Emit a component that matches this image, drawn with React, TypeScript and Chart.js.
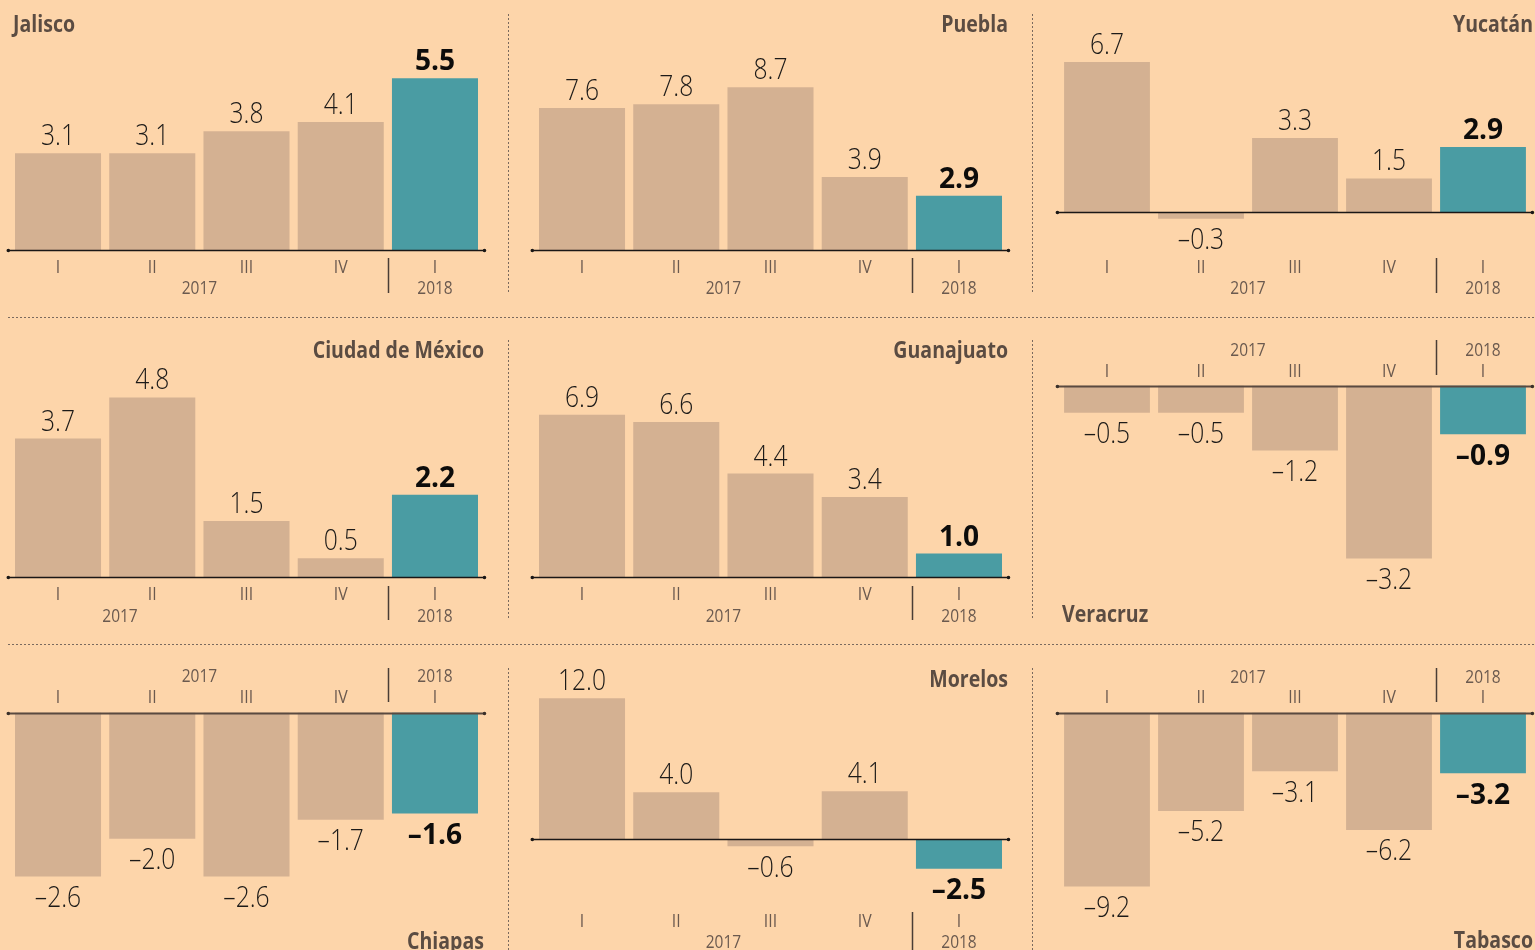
import React, { useEffect, useRef } from "react";
import { Chart, registerables } from "chart.js";

Chart.register(...registerables);

// ---------- DATA ----------
const QUARTERS = ["I", "II", "III", "IV", "I"];
const YEARS = ["2017", "2018"];

const JALISCO = [3.1, 3.1, 3.8, 4.1, 5.5];
const PUEBLA = [7.6, 7.8, 8.7, 3.9, 2.9];
const YUCATAN = [6.7, -0.3, 3.3, 1.5, 2.9];
const CDMX = [3.7, 4.8, 1.5, 0.5, 2.2];
const GUANAJUATO = [6.9, 6.6, 4.4, 3.4, 1.0];
const VERACRUZ = [-0.5, -0.5, -1.2, -3.2, -0.9];
const CHIAPAS = [-2.6, -2.0, -2.6, -1.7, -1.6];
const MORELOS = [12.0, 4.0, -0.6, 4.1, -2.5];
const TABASCO = [-9.2, -5.2, -3.1, -6.2, -3.2];

// ---------- STYLE / LAYOUT ----------
const BG = "#FDD5AA";
const TAN = "#D4B192";
const TEAL = "#4A9CA3";
const TITLE_COLOR = "#5b4c42";
const LABEL_COLOR = "#6b5a4f";
const VALUE_COLOR = "#1c1a18";
const DOT_COLOR = "#7a6a5e";
const FONT = '"Open Sans", "Noto Sans", sans-serif';

const COLS = [
  { left: 0, width: 510, areaL: 10.9, areaR: 482.1, vline: 508.5 },
  { left: 510, width: 524, areaL: 534.9, areaR: 1006.1, vline: 1032.5 },
  { left: 1034, width: 501, areaL: 1060, areaR: 1530, vline: null as number | null },
];
const ROWS = [
  { top: 0, height: 320, hline: 317.5 as number | null, vTop: 14, vBot: 293 },
  { top: 320, height: 326, hline: 644.5 as number | null, vTop: 340, vBot: 620 },
  { top: 646, height: 304, hline: null as number | null, vTop: 668, vBot: 950 },
];

type PanelCfg = {
  name: string;
  values: number[];
  row: number;
  col: number;
  y0: number;
  k: number;
  qBase: number;
  yBase: number;
  sepTop: number;
  sepBot: number;
  titleX: number;
  titleBase: number;
  titleAlign: CanvasTextAlign;
  yearX?: number;
  negAxis?: boolean;
};

const PANELS: PanelCfg[] = [
  { name: "Jalisco", values: JALISCO, row: 0, col: 0, y0: 250, k: 31.25, qBase: 273, yBase: 294, sepTop: 258, sepBot: 293, titleX: 13, titleBase: 32, titleAlign: "left" },
  { name: "Puebla", values: PUEBLA, row: 0, col: 1, y0: 250, k: 18.7, qBase: 273, yBase: 294, sepTop: 258, sepBot: 293, titleX: 1008, titleBase: 32, titleAlign: "right" },
  { name: "Yucatán", values: YUCATAN, row: 0, col: 2, y0: 212, k: 22.4, qBase: 273, yBase: 294, sepTop: 258, sepBot: 293, titleX: 1533, titleBase: 32, titleAlign: "right" },
  { name: "Ciudad de México", values: CDMX, row: 1, col: 0, y0: 577, k: 37.4, qBase: 600, yBase: 621.5, sepTop: 586, sepBot: 620, titleX: 484, titleBase: 358, titleAlign: "right", yearX: 120 },
  { name: "Guanajuato", values: GUANAJUATO, row: 1, col: 1, y0: 577, k: 23.5, qBase: 600, yBase: 621.5, sepTop: 586, sepBot: 620, titleX: 1008, titleBase: 358, titleAlign: "right" },
  { name: "Veracruz", values: VERACRUZ, row: 1, col: 2, y0: 385.7, k: 54, qBase: 376.7, yBase: 355.7, sepTop: 340, sepBot: 375, titleX: 1062, titleBase: 621.5, titleAlign: "left", negAxis: true },
  { name: "Chiapas", values: CHIAPAS, row: 2, col: 0, y0: 712.7, k: 63, qBase: 703, yBase: 682, sepTop: 668, sepBot: 702, titleX: 484, titleBase: 948.5, titleAlign: "right", negAxis: true },
  { name: "Morelos", values: MORELOS, row: 2, col: 1, y0: 839.3, k: 11.75, qBase: 926.7, yBase: 948, sepTop: 912, sepBot: 950, titleX: 1008, titleBase: 686.7, titleAlign: "right" },
  { name: "Tabasco", values: TABASCO, row: 2, col: 2, y0: 712.7, k: 18.9, qBase: 703, yBase: 682.5, sepTop: 668, sepBot: 702, titleX: 1533, titleBase: 948, titleAlign: "right", negAxis: true },
];

function fmt(v: number) {
  const s = Math.abs(v).toFixed(1);
  return v < 0 ? "\u2013" + s : s;
}

function txt(
  ctx: CanvasRenderingContext2D,
  s: string,
  x: number,
  y: number,
  font: string,
  color: string,
  align: CanvasTextAlign,
  sx: number
) {
  ctx.save();
  ctx.font = font;
  ctx.fillStyle = color;
  ctx.textBaseline = "alphabetic";
  ctx.textAlign = align;
  ctx.translate(x, y);
  ctx.scale(sx, 1);
  ctx.fillText(s, 0, 0);
  ctx.restore();
}

function Panel({ p }: { p: PanelCfg }) {
  const ref = useRef<HTMLCanvasElement | null>(null);
  const col = COLS[p.col];
  const row = ROWS[p.row];
  const ox = col.left;
  const oy = row.top;
  const W = col.width;
  const H = row.height;

  useEffect(() => {
    if (!ref.current) return;
    const max = (p.y0 - oy) / p.k;
    const min = (p.y0 - oy - H) / p.k;
    const X = (a: number) => a - ox;
    const Y = (a: number) => a - oy;

    const decor = {
      id: "decor",
      afterDatasetsDraw(chart: any) {
        const ctx: CanvasRenderingContext2D = chart.ctx;
        const meta = chart.getDatasetMeta(0);
        const ys = chart.scales.y;
        const ca = chart.chartArea;
        const zeroY = Math.round(ys.getPixelForValue(0)) + 0.5;
        const n = p.values.length;

        // dotted separators
        ctx.save();
        ctx.strokeStyle = DOT_COLOR;
        ctx.lineWidth = 1;
        ctx.setLineDash([2, 2]);
        if (col.vline !== null) {
          ctx.beginPath();
          ctx.moveTo(X(col.vline), Y(row.vTop));
          ctx.lineTo(X(col.vline), Y(row.vBot));
          ctx.stroke();
        }
        if (row.hline !== null) {
          const xs = p.col === 0 ? 8 : ox;
          ctx.lineDashOffset = (xs - 8) % 4;
          ctx.beginPath();
          ctx.moveTo(X(xs), Y(row.hline));
          ctx.lineTo(W, Y(row.hline));
          ctx.stroke();
        }
        ctx.restore();

        // zero axis
        ctx.save();
        ctx.strokeStyle = p.negAxis ? "#5a4a40" : "#1a1716";
        ctx.fillStyle = p.negAxis ? "#3a302a" : "#1a1716";
        ctx.lineWidth = p.negAxis ? 2 : 1.5;
        const ax1 = ca.left - 2.6;
        const ax2 = ca.right + 2.4;
        ctx.beginPath();
        ctx.moveTo(ax1, zeroY);
        ctx.lineTo(ax2, zeroY);
        ctx.stroke();
        ctx.beginPath();
        ctx.arc(ax1, zeroY, 1.8, 0, Math.PI * 2);
        ctx.arc(ax2, zeroY, 1.8, 0, Math.PI * 2);
        ctx.fill();
        ctx.restore();

        // value labels
        meta.data.forEach((bar: any, i: number) => {
          const v = p.values[i];
          const last = i === n - 1;
          const by = bar.y;
          const base = v >= 0 ? by - 8 : by + 30.5;
          if (last) {
            txt(ctx, fmt(v), bar.x, base, `bold 29px ${FONT}`, "#0d0c0b", "center", 0.97);
          } else {
            txt(ctx, fmt(v), bar.x, base, `300 29px ${FONT}`, VALUE_COLOR, "center", 0.85);
          }
        });

        // quarter labels
        meta.data.forEach((bar: any, i: number) => {
          txt(ctx, QUARTERS[i], bar.x, Y(p.qBase), `400 18px ${FONT}`, LABEL_COLOR, "center", 0.88);
        });

        // year labels
        const x2017 =
          p.yearX !== undefined
            ? X(p.yearX)
            : (meta.data[0].x + meta.data[n - 2].x) / 2;
        txt(ctx, YEARS[0], x2017, Y(p.yBase), `400 18px ${FONT}`, LABEL_COLOR, "center", 0.86);
        txt(ctx, YEARS[1], meta.data[n - 1].x, Y(p.yBase), `400 18px ${FONT}`, LABEL_COLOR, "center", 0.86);

        // year separator
        const sx = Math.round((meta.data[n - 2].x + meta.data[n - 1].x) / 2) + 0.5;
        ctx.save();
        ctx.strokeStyle = "#4a3d35";
        ctx.lineWidth = 1.5;
        ctx.beginPath();
        ctx.moveTo(sx, Y(p.sepTop));
        ctx.lineTo(sx, Y(p.sepBot));
        ctx.stroke();
        ctx.restore();

        // title
        txt(ctx, p.name, X(p.titleX), Y(p.titleBase), `bold 23px ${FONT}`, TITLE_COLOR, p.titleAlign, 0.85);
      },
    };

    const chart = new Chart(ref.current, {
      type: "bar",
      data: {
        labels: QUARTERS.map((q, i) => (i < 4 ? `${q} ${YEARS[0]}` : `${q} ${YEARS[1]}`)),
        datasets: [
          {
            data: p.values,
            backgroundColor: p.values.map((_, i) => (i === p.values.length - 1 ? TEAL : TAN)),
            borderWidth: 0,
            barPercentage: 0.913,
            categoryPercentage: 1,
          },
        ],
      },
      options: {
        animation: false,
        responsive: false,
        maintainAspectRatio: false,
        events: [],
        layout: {
          padding: { left: col.areaL - ox, right: ox + W - col.areaR, top: 0, bottom: 0 },
        },
        plugins: { legend: { display: false }, tooltip: { enabled: false } },
        scales: {
          x: { display: false },
          y: { display: false, min, max },
        },
      },
      plugins: [decor],
    } as any);
    return () => chart.destroy();
  }, []);

  return (
    <canvas
      ref={ref}
      width={W}
      height={H}
      style={{ position: "absolute", left: ox, top: oy, width: W, height: H, display: "block" }}
    />
  );
}

export default function App() {
  useEffect(() => {
    document.body.style.background = BG;
    document.body.style.margin = "0";
  }, []);
  return (
    <div
      style={{
        position: "absolute",
        left: 0,
        top: 0,
        width: 1535,
        height: 950,
        background: BG,
        overflow: "hidden",
      }}
    >
      {PANELS.map((p) => (
        <Panel key={p.name} p={p} />
      ))}
    </div>
  );
}
